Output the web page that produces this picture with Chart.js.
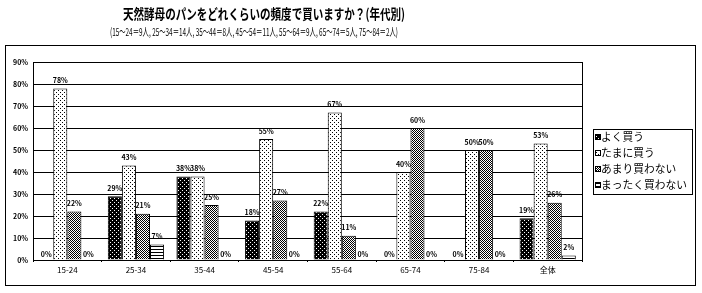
<!DOCTYPE html>
<html>
<head>
<meta charset="utf-8">
<script src="https://cdn.jsdelivr.net/npm/chart.js@4/dist/chart.umd.min.js"></script>
<style>
  html, body { margin: 0; padding: 0; background: #fff; }
  #wrap { width: 702px; height: 293px; }
</style>
</head>
<body>
<div id="wrap"><canvas id="chart"></canvas></div>
<script>
// === Datos ===
const TITULO = '天然酵母のパンをどれくらいの頻度で買いますか？(年代別)';
const SUBTITULO = '(15～24＝9人, 25～34＝14人, 35～44＝8人, 45～54＝11人, 55～64＝9人, 65～74＝5人, 75～84＝2人)';
const CATEGORIAS = ['15-24', '25-34', '35-44', '45-54', '55-64', '65-74', '75-84', '全体'];
const SERIES = ['よく買う', 'たまに買う', 'あまり買わない', 'まったく買わない'];
const YOKU    = [0, 29, 38, 18, 22, 0, 0, 19];
const TAMANI  = [78, 43, 38, 55, 67, 40, 50, 53];
const AMARI   = [22, 21, 25, 27, 11, 60, 50, 26];
const MATTAKU = [0, 7, 0, 0, 0, 0, 0, 2];
const Y_MAX = 90;
const Y_STEP = 10;

const FUENTE = '"Noto Sans CJK JP", "Noto Sans", sans-serif';

// patrones tipo Excel antiguo
function patron(w, h, dibujar) {
  const c = document.createElement('canvas');
  c.width = w; c.height = h;
  const g = c.getContext('2d');
  dibujar(g);
  return g.createPattern(c, 'repeat');
}
const PAT = [
  patron(4, 4, g => { g.fillStyle = '#000'; g.fillRect(0, 0, 4, 4); g.fillStyle = '#fff'; g.fillRect(0, 0, 1, 1); g.fillRect(2, 2, 1, 1); }),
  patron(4, 4, g => { g.fillStyle = '#fff'; g.fillRect(0, 0, 4, 4); g.fillStyle = '#000'; g.fillRect(0, 0, 1, 1); g.fillRect(2, 2, 1, 1); }),
  patron(2, 2, g => { g.fillStyle = '#fff'; g.fillRect(0, 0, 2, 2); g.fillStyle = '#000'; g.fillRect(0, 0, 1, 1); g.fillRect(1, 1, 1, 1); }),
  patron(1, 3, g => { g.fillStyle = '#fff'; g.fillRect(0, 0, 1, 3); g.fillStyle = '#000'; g.fillRect(0, 0, 1, 1); })
];

function textoAjustado(ctx, txt, x, y, escala) {
  ctx.save();
  ctx.translate(x, y);
  ctx.scale(escala, 1);
  ctx.fillText(txt, 0, 0);
  ctx.restore();
}

// titulo, marco exterior, borde derecho del area y leyenda
const marco = {
  id: 'marco',
  beforeDraw(chart) {
    const ctx = chart.ctx;
    ctx.save();
    ctx.fillStyle = '#fff';
    ctx.fillRect(0, 0, chart.width, chart.height);
    ctx.strokeStyle = '#000';
    ctx.lineWidth = 1;
    ctx.strokeRect(5.5, 45.5, 690, 240);
    ctx.fillStyle = '#000';
    ctx.textAlign = 'left';
    ctx.textBaseline = 'middle';
    ctx.font = 'bold 14px ' + FUENTE;
    textoAjustado(ctx, TITULO, 123, 14, 282 / ctx.measureText(TITULO).width);
    ctx.font = '11px ' + FUENTE;
    textoAjustado(ctx, SUBTITULO, 110, 32, 288 / ctx.measureText(SUBTITULO).width);
    ctx.restore();
  },
  afterDraw(chart) {
    const ctx = chart.ctx;
    const a = chart.chartArea;
    ctx.save();
    ctx.strokeStyle = '#000';
    ctx.lineWidth = 1;
    ctx.beginPath();
    ctx.moveTo(Math.round(a.right) + 0.5, a.top);
    ctx.lineTo(Math.round(a.right) + 0.5, a.bottom);
    ctx.stroke();

    // leyenda
    const lx = 593, ly = 129;
    ctx.strokeRect(lx + 0.5, ly + 0.5, 99, 65);
    ctx.font = '11px ' + FUENTE;
    ctx.textBaseline = 'middle';
    ctx.textAlign = 'left';
    const largo = Math.max(...chart.data.datasets.map(d => ctx.measureText(d.label).width));
    const esc = Math.min(1, 86 / largo);
    const filas = [137, 153, 169, 185];
    chart.data.datasets.forEach((ds, i) => {
      const y = filas[i];
      ctx.fillStyle = ds.backgroundColor;
      ctx.fillRect(lx + 2, y - 3, 6, 6);
      ctx.strokeRect(lx + 2.5, y - 2.5, 5, 5);
      ctx.fillStyle = '#000';
      textoAjustado(ctx, ds.label, lx + 8, y, esc);
    });
    ctx.restore();
  }
};

// etiquetas de valor encima de cada barra
const etiquetas = {
  id: 'etiquetas',
  afterDatasetsDraw(chart) {
    const ctx = chart.ctx;
    ctx.save();
    ctx.fillStyle = '#000';
    ctx.font = 'bold 7px ' + FUENTE;
    ctx.textAlign = 'center';
    ctx.textBaseline = 'middle';
    chart.data.datasets.forEach((ds, i) => {
      const meta = chart.getDatasetMeta(i);
      meta.data.forEach((bar, j) => {
        const v = ds.data[j];
        const off = v === 0 ? 6 : 8;
        ctx.fillText(v + '%', bar.x, bar.y - off);
      });
    });
    ctx.restore();
  }
};

const datos = [YOKU, TAMANI, AMARI, MATTAKU];

new Chart(document.getElementById('chart'), {
  type: 'bar',
  data: {
    labels: CATEGORIAS,
    datasets: SERIES.map((s, i) => ({
      label: s,
      data: datos[i],
      backgroundColor: PAT[i],
      borderColor: '#000',
      borderWidth: 1,
      categoryPercentage: 0.82,
      barPercentage: 1
    }))
  },
  options: {
    responsive: true,
    maintainAspectRatio: false,
    animation: false,
    devicePixelRatio: 1,
    layout: { padding: { left: 5, right: 120, top: 62, bottom: 13 } },
    plugins: {
      legend: { display: false },
      title: { display: false },
      tooltip: { enabled: false }
    },
    scales: {
      x: {
        afterFit: s => { s.height = 20; },
        grid: { display: true, drawOnChartArea: false, color: '#000', tickLength: 2, offset: true },
        border: { display: true, color: '#000' },
        ticks: { color: '#000', padding: 3, font: { family: FUENTE, size: 8 } }
      },
      y: {
        min: 0,
        max: Y_MAX,
        afterFit: s => { s.width = 28; },
        grid: { color: '#000', drawTicks: false },
        border: { display: true, color: '#000' },
        ticks: {
          stepSize: Y_STEP,
          color: '#000',
          padding: 5,
          font: { family: FUENTE, size: 7, weight: 'bold' },
          callback: v => v + '%'
        }
      }
    }
  },
  plugins: [marco, etiquetas]
});
</script>
</body>
</html>
